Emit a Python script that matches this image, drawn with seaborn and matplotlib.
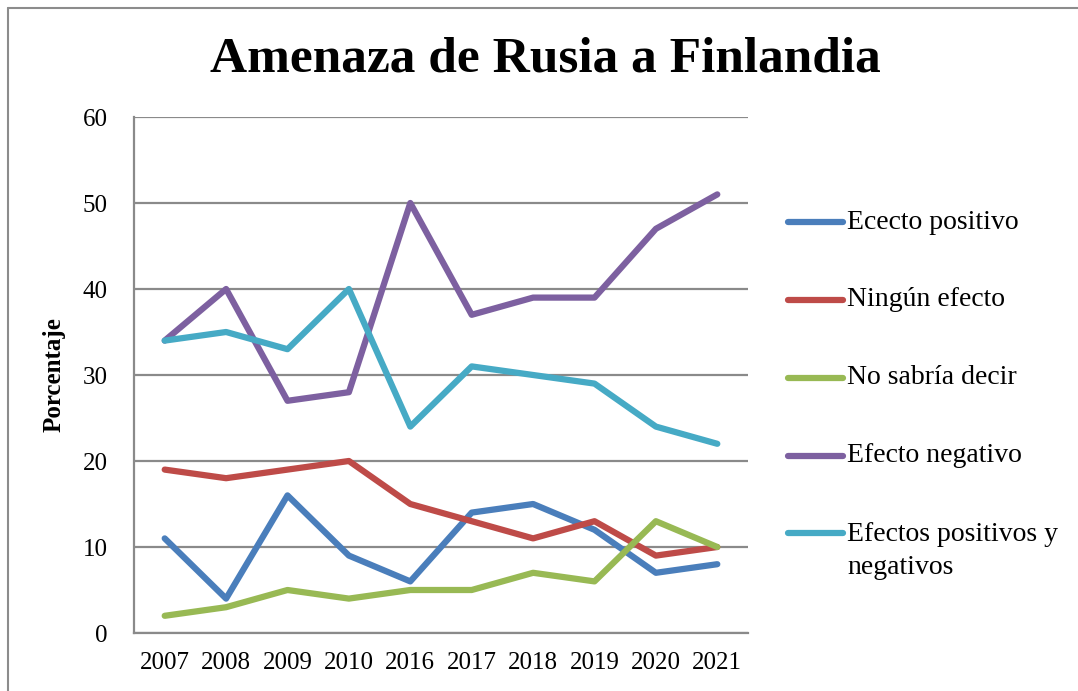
import matplotlib
matplotlib.use('Agg')
import matplotlib.pyplot as plt
from matplotlib.lines import Line2D
import seaborn as sns
import pandas as pd

years = ['2007', '2008', '2009', '2010', '2016', '2017', '2018', '2019', '2020', '2021']
series_names = ['Ececto positivo', 'Ningún efecto', 'No sabría decir',
                'Efecto negativo', 'Efectos positivos y\nnegativos']
efecto_positivo = [11, 4, 16, 9, 6, 14, 15, 12, 7, 8]
ningun_efecto = [19, 18, 19, 20, 15, 13, 11, 13, 9, 10]
no_sabria = [2, 3, 5, 4, 5, 5, 7, 6, 13, 10]
efecto_negativo = [34, 40, 27, 28, 50, 37, 39, 39, 47, 51]
pos_y_neg = [34, 35, 33, 40, 24, 31, 30, 29, 24, 22]
colors = ['#4A7EBB', '#BE4B48', '#98B954', '#7D60A0', '#46AAC5']

all_vals = [efecto_positivo, ningun_efecto, no_sabria, efecto_negativo, pos_y_neg]
rows = []
for name, vals in zip(series_names, all_vals):
    for y, v in zip(years, vals):
        rows.append({'year': y, 'serie': name, 'pct': v})
df = pd.DataFrame(rows)

sns.set_theme(style='white')
plt.rcParams['font.family'] = ['Liberation Serif', 'DejaVu Serif']
plt.rcParams['text.color'] = 'black'

W, H = 1078, 691
fig = plt.figure(figsize=(W / 100, H / 100), dpi=100)
ax = fig.add_axes([134 / W, 1 - 633 / H, (748 - 134) / W, (633 - 117) / H])

sns.lineplot(data=df, x='year', y='pct', hue='serie', palette=colors, sort=False,
             linewidth=4.5, legend=False, ax=ax, solid_capstyle='round')

grid_c = '#8a8a8a'
ax.set_xlim(-0.5, len(years) - 0.5)
ax.set_ylim(0, 60)
ax.set_yticks(range(0, 61, 10))
ax.yaxis.grid(True, color=grid_c, linewidth=1.6)
ax.set_axisbelow(True)
for s in ['top', 'right']:
    ax.spines[s].set_visible(False)
for s in ['left', 'bottom']:
    ax.spines[s].set_color(grid_c)
    ax.spines[s].set_linewidth(1.6)
ax.tick_params(axis='both', length=0, labelsize=18, colors='black')
ax.tick_params(axis='y', pad=19)
ax.tick_params(axis='x', pad=14)
ax.set_xlabel('')
ax.set_ylabel('Porcentaje', fontsize=18, fontweight='bold', labelpad=12, color='black')

fig.text(0.506, 1 - 60 / H, 'Amenaza de Rusia a Finlandia', ha='center', va='center',
         fontsize=37, fontweight='bold')

# legend drawn by hand so the handle lines sit on the first text line
leg_y = [222, 300, 378, 456, 533]
for name, c, yy in zip(series_names, colors, leg_y):
    fig.add_artist(Line2D([788 / W, 843 / W], [1 - yy / H] * 2, color=c, linewidth=4.5,
                          solid_capstyle='round'))
    if '\n' in name:
        fig.text(847 / W, 1 - (yy - 11) / H, name, ha='left', va='top',
                 fontsize=20, linespacing=1.42)
    else:
        fig.text(847 / W, 1 - yy / H, name, ha='left', va='center', fontsize=20)

# outer chart frame
fig.add_artist(Line2D([8 / W, 8 / W], [0, 1 - 8 / H], color='#8c8c8c', linewidth=1.5))
fig.add_artist(Line2D([8 / W, 1], [1 - 8 / H, 1 - 8 / H], color='#8c8c8c', linewidth=1.5))

fig.savefig('out.png', dpi=100)
